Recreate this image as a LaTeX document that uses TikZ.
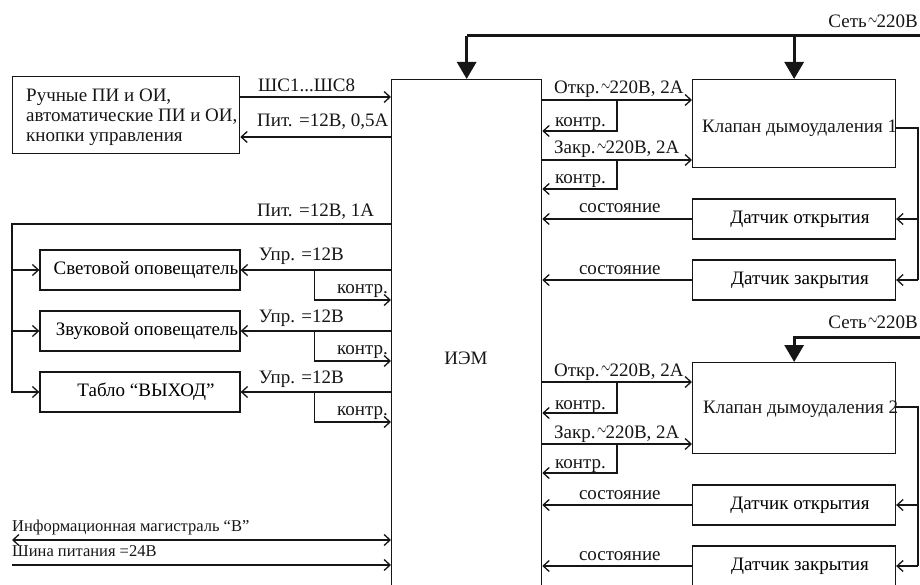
\documentclass[tikz,border=0pt]{standalone}
\usepackage{fontspec}
\setmainfont{Liberation Serif}
\usetikzlibrary{arrows.meta,calc}
\definecolor{ink}{RGB}{22,22,22}
\newcommand{\acv}{\kern1.5pt\raisebox{2.5pt}{\scalebox{0.7}[1.2]{$\sim$}}\kern-1pt}
\tikzset{
  block/.style={draw=ink,line width=1.3pt,inner sep=0pt},
  wire/.style={draw=ink,line width=1.3pt},
  sig/.style={wire,-{Straight Barb[length=6pt,width=11pt,line width=1.3pt]}},
  twoway/.style={wire,{Straight Barb[length=6pt,width=11pt,line width=1.3pt]}-{Straight Barb[length=6pt,width=11pt,line width=1.3pt]}},
  supply/.style={draw=ink,line width=2.2pt,-{Straight Barb[length=6pt,width=11pt,line width=1.3pt]}},
  bus/.style={draw=ink,line width=3pt},
  mains/.style={bus,-{Triangle[length=17pt,width=19pt]}},
  tag/.style={anchor=base west,inner sep=0pt,text=ink},
  rtag/.style={anchor=base east,inner sep=0pt,text=ink},
  small/.style={font=\fontsize{16.5}{18}\selectfont}
}

\begin{document}
\begin{tikzpicture}[x=1pt,y=-1pt,font=\fontsize{19}{20}\selectfont]
  \useasboundingbox (0,0) rectangle (920,585);
  \clip (0,0) rectangle (920,585);
  % blocks
  \node[block,minimum width=150,minimum height=540,anchor=north west] (iem) at (391,79) {};
  \node[text=ink] (iemname) at (466,358) {ИЭМ};
  \node[block,minimum width=227,minimum height=77,anchor=north west] (det) at (12,76) {};
  \foreach \y/\n/\t in {102/a/{Ручные ПИ и ОИ,},122/b/{автоматические ПИ и ОИ,},142/c/{кнопки управления}}
    \node[tag] (det\n) at (26,\y) {\t};
  \node[block,minimum width=200,minimum height=40] (light) at (140,270) {\hspace{12pt}Световой оповещатель};
  \node[block,minimum width=200,minimum height=40] (sound) at (140,331) {\hspace{14pt}Звуковой оповещатель};
  \node[block,minimum width=200,minimum height=40] (exit) at (140,392) {\hspace{12pt}Табло “ВЫХОД”};
  \node[block,minimum width=203,minimum height=88,anchor=north west] (klap1) at (692,79) {};
  \node[tag] (klap1name) at (702,133) {Клапан дымоудаления 1};
  \node[block,minimum width=203,minimum height=91,anchor=north west] (klap2) at (692,362) {};
  \node[tag] (klap2name) at (703,413) {Клапан дымоудаления 2};
  \foreach \y/\n/\t in {219/opn1/открытия,280/cls1/закрытия,505/opn2/открытия,566/cls2/закрытия}
    \node[block,minimum width=203,minimum height=40] (\n) at (794,\y) {\hspace{12pt}Датчик \t};

  % mains
  \draw[bus] (920,36) -- (iem.north |- 0,36);
  \draw[mains] (iem.north |- 0,36) -- (iem.north);
  \draw[mains] (klap1.north |- 0,36) -- (klap1.north);
  \node[rtag] (mainsa) at (918,28) {Сеть\acv220В};
  \draw[mains] (920,337) -| (klap2.north);
  \node[rtag] (mainsb) at (918,328) {Сеть\acv220В};

  % detectors
  \draw[sig] (det.east |- 0,97) -- (iem.west |- 0,97);
  \node[tag] (shs) at (258,92) {ШС1...ШС8};
  \draw[sig] (iem.west |- 0,137) -- (det.east |- 0,137);
  \node[tag] (pit1) at (257,127) {Пит. =12В, 0,5А};

  % annunciators
  \coordinate (railtop) at (12,224);
  \coordinate (railbot) at (12,393);
  \draw[wire] (iem.west |- railtop) -- (railtop) -- (railbot);
  \node[tag] (pit2) at (257,217) {Пит. =12В, 1А};
  \foreach \b in {light,sound,exit} {
    \draw[sig] (railtop |- \b.west) -- (\b.west);
    \draw[sig] (iem.west |- \b.east) -- (\b.east);
    \draw[sig] ($(\b.east)+(74,0)$) |- ($(iem.west |- \b.east)+(0,30)$);
    \node[tag] (upr\b) at ($(\b.east)+(18,-9)$) {Упр. =12В};
    \node[rtag] (ctl\b) at ($(iem.west |- \b.east)+(-3,23)$) {контр.};
  }

  % valves
  \foreach \k/\yo/\yc in {klap1/100/160,klap2/382/444} {
    \draw[sig] (iem.east |- 0,\yo) -- (\k.west |- 0,\yo);
    \draw[sig] (617,\yo) |- (iem.east |- 0,\yo+31);
    \draw[sig] (iem.east |- 0,\yc) -- (\k.west |- 0,\yc);
    \draw[sig] (617,\yc) |- (iem.east |- 0,\yc+29);
    \node[tag] (opn\k) at (554,\yo-6) {Откр.\acv220В, 2А};
    \node[tag] (ctla\k) at (555,\yo+27) {контр.};
    \node[tag] (cls\k) at (554,\yc-6) {Закр.\acv220В, 2А};
    \node[tag] (ctlb\k) at (555,\yc+24) {контр.};
  }
  \draw[wire] (klap1.east |- 0,128) -- (918,128) -- (918,280);
  \draw[wire] (klap2.east |- 0,407) -- (918,407) -- (918,566);
  \foreach \s in {opn1,cls1,opn2,cls2} {
    \draw[sig] (918,0 |- \s.east) -- (\s.east);
    \draw[sig] (\s.west) -- (iem.east |- \s.west);
    \node[tag] (st\s) at ($(\s.west)+(-113,-6)$) {состояние};
  }

  % buses
  \draw[twoway] (12,540) -- (iem.west |- 0,540);
  \node[tag,small] (infobus) at (12,531) {Информационная магистраль “В”};
  \draw[supply] (12,565) -- (iem.west |- 0,565);
  \node[tag,small] (pwrbus) at (12,556) {Шина питания =24В};
\end{tikzpicture}
\end{document}
